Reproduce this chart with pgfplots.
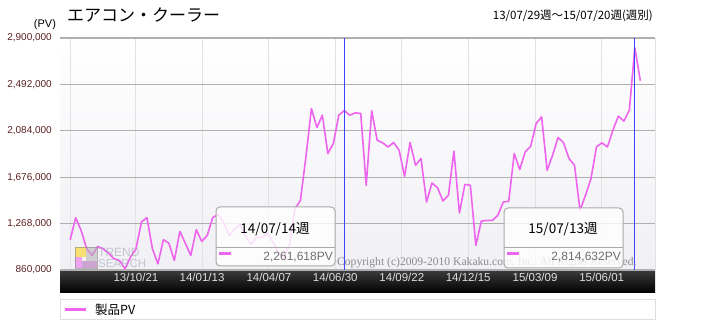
\documentclass[border=0pt]{standalone}
\usepackage{pgfplots}
\pgfplotsset{compat=1.18}
\usepackage{pgfplotstable}
\usepackage{fontspec}
\setmainfont{Liberation Sans}
\newfontfamily\jp{Noto Sans CJK JP}
\newfontfamily\serif{Liberation Serif}
\definecolor{pvpink}{RGB}{238,100,238}
\definecolor{ylab}{RGB}{92,32,32}
\definecolor{xlab}{RGB}{222,222,222}
\definecolor{hgrid}{RGB}{176,176,176}
\definecolor{vgrid}{RGB}{226,226,226}
\definecolor{bgbot}{RGB}{240,240,245}
\definecolor{blueline}{RGB}{64,64,255}
\definecolor{tipborder}{RGB}{170,170,170}
\definecolor{tipval}{RGB}{110,110,110}
\definecolor{legborder}{RGB}{222,222,222}
\definecolor{copyc}{RGB}{140,140,140}
\definecolor{logoc}{RGB}{160,160,178}

\pgfplotstableread{
i v
0 1126000
1 1320000
2 1208000
3 1047000
4 988000
5 1067000
6 1047000
7 1008000
8 959000
9 944000
10 870000
11 973000
12 1047000
13 1282000
14 1320000
15 1047000
16 914000
17 1126000
18 1096000
19 944000
20 1199000
21 1096000
22 988000
23 1214000
24 1111000
25 1164000
26 1320000
27 1349000
28 1279000
29 1164000
30 1217000
31 1261000
32 1155000
33 1085000
34 1146000
35 1146000
36 1182000
37 1102000
38 1014000
39 970000
40 1085000
41 1399000
42 1472000
43 1854000
44 2280000
45 2113000
46 2221000
47 1884000
48 1972000
49 2221000
50 2261618
51 2221000
52 2242000
53 2236000
54 1605000
55 2260000
56 2001000
57 1978000
58 1942000
59 1981000
60 1913000
61 1684000
62 1981000
63 1781000
64 1840000
65 1458000
66 1625000
67 1584000
68 1467000
69 1517000
70 1905000
71 1361000
72 1613000
73 1605000
74 1076000
75 1290000
76 1296000
77 1296000
78 1340000
79 1458000
80 1464000
81 1884000
82 1743000
83 1898000
84 1948000
85 2148000
86 2207000
87 1737000
88 1869000
89 2025000
90 1978000
91 1840000
92 1781000
93 1384000
94 1517000
95 1663000
96 1942000
97 1978000
98 1942000
99 2089000
100 2213000
101 2169000
102 2266000
103 2814632
104 2524000
}\pvdata

\begin{document}
\begin{tikzpicture}[x=1pt,y=1pt]
\path[use as bounding box] (0,0) rectangle (715,321);
% dark date bar
\shade[top color={rgb,255:red,60;green,60;blue,60}, bottom color=black] (60,28) rectangle (655,51);
% legend frame
\draw[legborder, fill=white, line width=1pt] (60,1) rectangle (655,21);
% titles
\node[anchor=west, inner sep=0pt] at (67,306) {\jp\fontsize{17}{17}\selectfont エアコン・クーラー};
\node[anchor=center, inner sep=0pt] at (45,296) {\fontsize{11}{11}\selectfont (PV)};
\node[anchor=east, inner sep=0pt] at (653,305) {\jp\fontsize{11.5}{11.5}\selectfont 13/07/29週～15/07/20週(週別)};

\begin{axis}[
  at={(60pt,51pt)}, anchor=south west,
  scale only axis, width=595pt, height=232pt,
  xmin=-1.86, xmax=106.68, ymin=860000, ymax=2900000,
  axis background/.style={top color=white, bottom color=bgbot},
  ytick={860000,1268000,1676000,2084000,2492000,2900000},
  yticklabels={{860,000},{1,268,000},{1,676,000},{2,084,000},{2,492,000},{2,900,000}},
  scaled y ticks=false,
  xtick={0,12,24.05,36.25,48.35,60.5,72.6,84.8,96.95},
  xticklabels={,13/10/21,14/01/13,14/04/07,14/06/30,14/09/22,14/12/15,15/03/09,15/06/01},
  xmajorgrids, ymajorgrids,
  x grid style={draw=vgrid, line width=1pt},
  y grid style={draw=hgrid, line width=1.2pt},
  axis line style={draw=none},
  tick style={draw=none},
  yticklabel style={font=\fontsize{10}{10}\selectfont, text=ylab, anchor=east, inner sep=0pt, xshift=-8pt},
  xticklabel style={font=\fontsize{11.5}{11.5}\selectfont, text=xlab, anchor=center, inner sep=0pt, yshift=-7.5pt},
  legend style={at={(0,-0.1724)}, anchor=west, draw=none, fill=none, inner sep=3pt,
    font=\jp\fontsize{12.5}{12.5}\selectfont, column sep=0pt, nodes={inner sep=1pt}},
  legend image code/.code={\draw[#1, line width=3pt] (0pt,0pt) -- (21pt,0pt);},
]
\addplot[pvpink, line width=1.6pt, line join=round] table[x=i, y=v]{\pvdata};
\addlegendentry{\hspace{7pt}製品PV}
\draw[blueline, line width=1.2pt] (axis cs:50,860000) -- (axis cs:50,2900000);
\draw[blueline, line width=1.2pt] (axis cs:103,860000) -- (axis cs:103,2900000);
\end{axis}
% right border
\draw[vgrid, line width=1.5pt] (655.5,51) -- (655.5,283);

% logo
\begin{scope}[opacity=0.55]
\fill[yellow!70!orange] (75,64) rectangle (86,74);
\fill[pvpink] (75,53) rectangle (82,64);
\fill[violet!60] (82,53) rectangle (97,60);
\fill[gray!60] (86,60) rectangle (97,74);
\draw[gray, line width=0.6pt] (75,53) rectangle (97,74);
\node[anchor=base west, inner sep=0pt, text=logoc] at (98,64.5) {\fontsize{12}{12}\selectfont TREND};
\node[anchor=base west, inner sep=0pt, text=logoc] at (98,53.5) {\fontsize{11.5}{11.5}\selectfont SEARCH};
\end{scope}

% copyright
\node[anchor=base west, inner sep=0pt, text=copyc] at (337,55) {\serif\fontsize{11.6}{11.6}\selectfont Copyright (c)2009-2010 Kakaku.com, Inc. All Rights Reserved.};

% tooltip 1
\draw[tipborder, fill=white, fill opacity=0.8, rounded corners=4pt, line width=1pt] (216,55) rectangle (335,114);
\draw[tipborder, line width=1pt] (216,73) -- (335,73);
\draw[pvpink, line width=3pt] (219,67.5) -- (231,67.5);
\node[anchor=center, inner sep=0pt] at (275,92) {\jp\fontsize{13.5}{13.5}\selectfont 14/07/14週};
\node[anchor=east, inner sep=0pt, text=tipval] at (333,64) {\fontsize{12}{12}\selectfont 2,261,618PV};

% tooltip 2
\draw[tipborder, fill=white, fill opacity=0.8, rounded corners=4pt, line width=1pt] (504,53) rectangle (623,113);
\draw[tipborder, line width=1pt] (504,73) -- (623,73);
\draw[pvpink, line width=3pt] (507,67.5) -- (519,67.5);
\node[anchor=center, inner sep=0pt] at (563,92) {\jp\fontsize{13.5}{13.5}\selectfont 15/07/13週};
\node[anchor=east, inner sep=0pt, text=tipval] at (621,64) {\fontsize{12}{12}\selectfont 2,814,632PV};
\end{tikzpicture}
\end{document}
